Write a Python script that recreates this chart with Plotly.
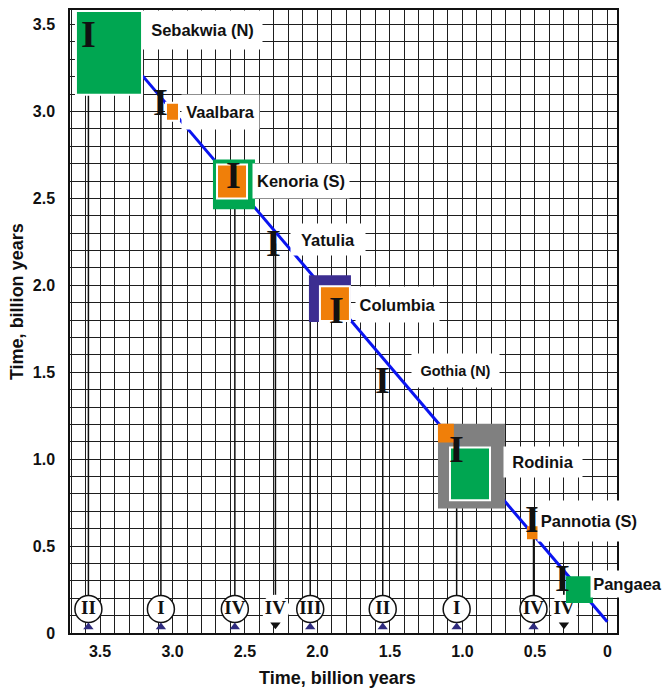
import plotly.graph_objects as go

# Supercontinent assembly events on a time-time diagram (billion years)
names = ["Sebakwia (N)", "Vaalbara", "Kenoria (S)", "Yatulia", "Columbia",
         "Gothia (N)", "Rodinia", "Pannotia (S)", "Pangaea"]
event_x = [3.58, 3.08, 2.58, 2.30, 1.87, 1.55, 1.04, 0.52, 0.31]
event_y = [3.44, 3.05, 2.63, 2.24, 1.85, 1.45, 1.05, 0.65, 0.31]

# drop lines to the cycle markers on the time axis
cycle_x = [3.58, 3.08, 2.57, 2.29, 2.05, 1.55, 1.04, 0.51, 0.30]
cycle_type = ["II", "I", "IV", "IV", "III", "II", "I", "IV", "IV"]
cycle_circled = [True, True, True, False, True, True, True, True, False]

# general trend line
trend_x = [3.206, 0.001]
trend_y = [3.205, 0.065]

# continent blocks (left, right, bottom, top, colour), drawn in order
GREEN, ORANGE, PURPLE, GREY = "#00a651", "#f07f09", "#3c2e91", "#808080"
box_left = [3.666, 3.045, 2.714, 2.693, 2.052, 1.983, 1.162, 1.162, 1.086, 0.548, 0.279]
box_right = [3.210, 2.955, 2.438, 2.486, 1.776, 1.776, 0.714, 1.066, 0.810, 0.479, 0.107]
box_bottom = [3.096, 2.947, 2.443, 2.500, 1.795, 1.795, 0.722, 1.101, 0.763, 0.545, 0.178]
box_top = [3.578, 3.050, 2.718, 2.695, 2.053, 1.995, 1.198, 1.198, 1.067, 0.608, 0.321]
box_color = [GREEN, ORANGE, GREEN, ORANGE, PURPLE, ORANGE, GREY, ORANGE, GREEN, ORANGE, GREEN]
box_edge = ["white", "white", GREEN, "white", PURPLE, "white", GREY, ORANGE, "white", ORANGE, GREEN]

x_ticks = [3.5, 3.0, 2.5, 2.0, 1.5, 1.0, 0.5, 0.0]
x_ticktext = ["3.5", "3.0", "2.5", "2.0", "1.5", "1.0", "0.5", "0"]
y_ticks = [3.5, 3.0, 2.5, 2.0, 1.5, 1.0, 0.5, 0.0]
y_ticktext = ["3.5", "3.0", "2.5", "2.0", "1.5", "1.0", "0.5", "0"]

# label placement relative to each event mark (pixels) and label box size
label_dx = [114, 60, 68, 54, 61, 73, 86, 57, 65]
label_dy = [5, -9, -5, 4, 7, 10, -12, -1, -5]
label_w = [119, 77, 96, 74, 83, 87, 78, 102, 73]
label_h = [38, 34, 34, 31, 35, 33, 30, 40, 26]
label_size = [16.5, 16.5, 16.5, 16.5, 16.5, 14.5, 16.5, 16.5, 16.5]

CIRCLE_Y = 0.138
TRI_UP_Y = 0.034
TRI_DN_Y = 0.048

SANS = "Liberation Sans"
SERIF = "Liberation Serif"

fig = go.Figure()

# trend line
fig.add_trace(go.Scatter(x=trend_x, y=trend_y, mode="lines",
                         line=dict(color="#0a14f0", width=3), hoverinfo="skip"))

# drop lines
vx, vy = [], []
for cx, ey in zip(cycle_x, event_y):
    vx += [cx, cx, None]
    vy += [ey, CIRCLE_Y, None]
fig.add_trace(go.Scatter(x=vx, y=vy, mode="lines",
                         line=dict(color="#111111", width=1.5), hoverinfo="skip"))

# cycle markers
fig.add_trace(go.Scatter(
    x=cycle_x, y=[CIRCLE_Y] * len(cycle_x), mode="markers+text",
    text=cycle_type, textposition="middle center",
    textfont=dict(family=SERIF, size=19, color="#111111", weight="bold"),
    marker=dict(symbol="circle", size=27, color="white",
                line=dict(color=["#111111" if c else "white" for c in cycle_circled], width=1.5)),
    hoverinfo="skip"))

up_x = [x for x, c in zip(cycle_x, cycle_circled) if c]
dn_x = [x for x, c in zip(cycle_x, cycle_circled) if not c]
fig.add_trace(go.Scatter(x=up_x, y=[TRI_UP_Y] * len(up_x), mode="markers",
                         marker=dict(symbol="triangle-up", size=9, color="#2e2a7e"),
                         hoverinfo="skip"))
fig.add_trace(go.Scatter(x=dn_x, y=[TRI_DN_Y] * len(dn_x), mode="markers",
                         marker=dict(symbol="triangle-down", size=9, color="#111111"),
                         hoverinfo="skip"))

# continent blocks
for x0, x1, y0, y1, fc, ec in zip(box_left, box_right, box_bottom, box_top, box_color, box_edge):
    fig.add_shape(type="rect", x0=x0, x1=x1, y0=y0, y1=y1, xref="x", yref="y",
                  fillcolor=fc, line=dict(color=ec, width=2), layer="above")

# event marks and names
for i, name in enumerate(names):
    fig.add_annotation(x=event_x[i], y=event_y[i], text="I", showarrow=False,
                       xref="x", yref="y", yshift=1,
                       font=dict(family=SERIF, size=38, color="#111111", weight="bold"))
    fig.add_annotation(x=event_x[i], y=event_y[i], text=name, showarrow=False,
                       xref="x", yref="y", xshift=label_dx[i], yshift=label_dy[i],
                       width=label_w[i], height=label_h[i], bgcolor="white",
                       borderpad=0, align="center", valign="middle",
                       font=dict(family=SANS, size=label_size[i], color="#111111",
                                 weight="bold"))

# axis titles
fig.add_annotation(x=337, y=678, xref="paper", yref="paper", text="Time, billion years",
                   showarrow=False, font=dict(family=SANS, size=18, color="#111111", weight="bold"))
fig.add_annotation(x=17, y=301, xref="paper", yref="paper", text="Time, billion years",
                   textangle=-90, showarrow=False,
                   font=dict(family=SANS, size=18, color="#111111", weight="bold"))

W, H = 665, 694
L, R, T, B = 70, 48, 8, 61
pw, ph = W - L - R, H - T - B
# convert the two title positions from pixels to paper units
for ann in fig.layout.annotations[-2:]:
    ann.x = (ann.x - L) / pw
    ann.y = 1 - (ann.y - T) / ph
    ann.xanchor = "center"
    ann.yanchor = "middle"

grid = dict(showgrid=True, gridcolor="#1e1e1e", gridwidth=1.2)
fig.update_layout(
    width=W, height=H, margin=dict(l=L, r=R, t=T, b=B),
    paper_bgcolor="white", plot_bgcolor="white", showlegend=False,
    xaxis=dict(range=[3.707, -0.066], tickmode="array", tickvals=x_ticks,
               ticktext=x_ticktext, ticks="", ticklabelstandoff=3, zeroline=False,
               showline=True, linecolor="#111111", linewidth=1.5, mirror=True,
               tickfont=dict(family=SANS, size=16, color="#111111", weight="bold"),
               minor=dict(tick0=0, dtick=0.1, **grid), **grid),
    yaxis=dict(range=[0, 3.584], tickmode="array", tickvals=y_ticks,
               ticktext=y_ticktext, ticks="", ticklabelstandoff=10, zeroline=False,
               showline=True, linecolor="#111111", linewidth=1.5, mirror=True,
               tickfont=dict(family=SANS, size=16, color="#111111", weight="bold"),
               minor=dict(tick0=0, dtick=0.1, **grid), **grid),
)

fig.write_html("out.html")
